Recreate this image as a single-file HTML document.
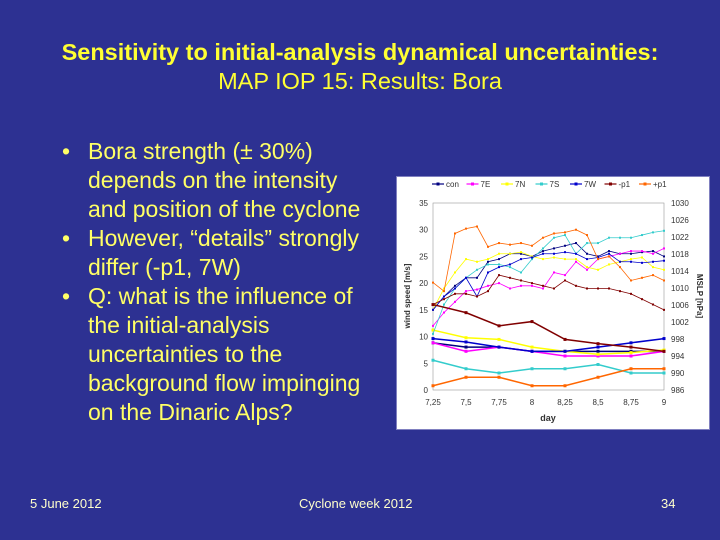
<!DOCTYPE html>
<html><head><meta charset="utf-8"><style>
body{margin:0;width:720px;height:540px;overflow:hidden;background:#2d3192;font-family:"Liberation Sans",sans-serif;position:relative}
.t{position:absolute;white-space:nowrap}
.title{left:0;width:720px;text-align:center;color:#ffff33;font-size:23.5px;line-height:29px}
.bul{color:#ffff66;font-size:23px;line-height:29px;left:62px}
.bul span.b{position:absolute;left:0}
.bul span.x{position:absolute;left:26px}
.foot{color:#ffffcc;font-size:13px;top:496px}
</style></head><body>
<div class="t title" style="top:38px;font-weight:bold">Sensitivity to initial-analysis dynamical uncertainties:</div>
<div class="t title" style="top:67px">MAP IOP 15: Results: Bora</div>
<div class="t bul" style="top:137px">
<div style="position:relative;height:29px"><span class="b">•</span><span class="x">Bora strength (± 30%)</span></div>
<div style="position:relative;height:29px"><span class="x">depends on the intensity</span></div>
<div style="position:relative;height:29px"><span class="x">and position of the cyclone</span></div>
<div style="position:relative;height:29px"><span class="b">•</span><span class="x">However, “details” strongly</span></div>
<div style="position:relative;height:29px"><span class="x">differ (-p1, 7W)</span></div>
<div style="position:relative;height:29px"><span class="b">•</span><span class="x">Q: what is the influence of</span></div>
<div style="position:relative;height:29px"><span class="x">the initial-analysis</span></div>
<div style="position:relative;height:29px"><span class="x">uncertainties to the</span></div>
<div style="position:relative;height:29px"><span class="x">background flow impinging</span></div>
<div style="position:relative;height:29px"><span class="x">on the Dinaric Alps?</span></div>
</div>
<div class="t foot" style="left:30px">5 June 2012</div>
<div class="t foot" style="left:299px">Cyclone week 2012</div>
<div class="t foot" style="left:661px">34</div>
<svg id="chart" width="720" height="540" style="position:absolute;left:0;top:0"></svg>
<script>
const hours=[0,2,4,6,8,10,12,14,16,18,20,22,24,26,28,30,32,34,36,38,40,42];
const pDays=[7.25,7.5,7.75,8,8.25,8.5,8.75,9];
const seriesNames=["con","7E","7N","7S","7W","-p1","+p1"];
const seriesColors=["#000080","#ff00ff","#ffff00","#33cccc","#0000cc","#800000","#ff6600"];
const windCon=[15,17.5,19.5,21,21,24,24.5,25.5,25.5,25,26,26.5,27,27.5,25.5,25,26,25.5,25.5,25.8,26,25];
const wind7E=[12,14.5,16.5,18.5,18.8,19.5,20,19,19.5,19.5,19,22,21.5,24,22.5,24.5,25,25.5,26,26,25.5,26.5];
const wind7N=[15,19,22,24.5,24,24.5,25.5,25.5,25.8,25,24.5,24.8,24.5,24.5,23,22.5,23.5,24,24.5,24.8,23,22.5];
const wind7S=[10.5,16,19,21,22.5,23.5,23.5,23,22,24.5,26.5,28.5,29,25.5,27.5,27.5,28.5,28.5,28.5,29,29.5,29.8];
const wind7W=[15,17.5,19,21,17.5,22,23,23.5,24.5,24.8,25.5,25.5,25.8,25.5,24.5,24.8,25.5,24,24,23.8,24,24.2];
const windM1=[16,17,18,18,17.5,18.5,21.5,21,20.5,20,19.5,19,20.5,19.5,19,19,19,18.5,18,17,16,15];
const windP1=[20.1,18.5,29.3,30.2,30.6,26.8,27.5,27.2,27.5,27,28.5,29.3,29.5,30,29,24.5,25,23,20.5,21,21.5,20.5];
const pCon=[997.1,996.1,996.1,995.1,995.1,995.1,995.1,995.1];
const p7E=[997.1,995.1,996.1,995.1,994.0,994.0,994.0,995.1];
const p7N=[1000.1,998.3,997.9,996.1,995.1,994.4,994.8,995.4];
const p7S=[993.0,991.0,990.0,991.0,991.0,992.0,990.0,990.0];
const p7W=[998.1,997.3,996.1,995.1,995.1,996.1,997.1,998.1];
const pM1=[1006.1,1004.2,1001.1,1002.1,997.9,996.9,996.1,995.1];
const pP1=[987.0,989.0,989.0,987.0,987.0,989.0,991.0,991.0];
const windTicks=[0,5,10,15,20,25,30,35];
const pTicks=[986,990,994,998,1002,1006,1010,1014,1018,1022,1026,1030];
const dayTicks=["7,25","7,5","7,75","8","8,25","8,5","8,75","9"];
const windSeries=[windCon,wind7E,wind7N,wind7S,wind7W,windM1,windP1];
const pSeries=[pCon,p7E,p7N,p7S,p7W,pM1,pP1];
const X0=433,X1=664,Y0=390,Y1=203;
const xs=d=>X0+(d-7.25)/1.75*(X1-X0);
const yw=v=>Y0-v/35*(Y0-Y1);
const yp=p=>Y0-(p-986)/44*(Y0-Y1);
const svg=document.getElementById('chart');const NS="http://www.w3.org/2000/svg";
function mk(t,a,txt){const e=document.createElementNS(NS,t);for(const k in a)e.setAttribute(k,a[k]);if(txt!=null)e.textContent=txt;svg.appendChild(e);return e;}
let e=mk('rect',{x:396.5,y:176.5,width:313,height:253,fill:"#fff",stroke:"#8080c0"});

e=mk('rect',{x:X0,y:Y1,width:X1-X0,height:Y0-Y1,fill:"none",stroke:"#999","stroke-width":0.6});

windTicks.forEach(v=>{e=mk('text',{x:X0-5,y:yw(v)+3,"font-size":8,"text-anchor":"end",fill:"#333"},v);
});
pTicks.forEach(p=>{e=mk('text',{x:X1+7,y:yp(p)+3,"font-size":8,fill:"#333"},p);
});
dayTicks.forEach((t,i)=>{e=mk('text',{x:xs(pDays[i]),y:Y0+15,"font-size":8,"text-anchor":"middle",fill:"#333"},t);
});
e=mk('text',{x:548,y:421,"font-size":9,"font-weight":"bold","text-anchor":"middle",fill:"#333"},"day");

e=mk('text',{x:410,y:296,"font-size":8,"font-weight":"bold","text-anchor":"middle",fill:"#333",transform:"rotate(-90 410 296)"},"wind speed [m/s]");

e=mk('text',{x:697,y:296,"font-size":8,"font-weight":"bold","text-anchor":"middle",fill:"#333",transform:"rotate(90 697 296)"},"MSLP [hPa]");

seriesNames.forEach((n,i)=>{
 const c=seriesColors[i];
 const wp=windSeries[i].map((v,k)=>[xs(7.25+hours[k]/24),yw(v)]);
 e=mk('polyline',{points:wp.map(p=>p.join(',')).join(' '),fill:"none",stroke:c,"stroke-width":0.8});
 
 wp.forEach(p=>mk('rect',{x:p[0]-1,y:p[1]-1,width:2,height:2,fill:c}));
 const pp=pSeries[i].map((v,k)=>[xs(pDays[k]),yp(v)]);
 e=mk('polyline',{points:pp.map(p=>p.join(',')).join(' '),fill:"none",stroke:c,"stroke-width":1.5});
 
 pp.forEach(p=>mk('rect',{x:p[0]-1.5,y:p[1]-1.5,width:3,height:3,fill:c}));
 const lx=432+i*34.5;
 e=mk('line',{x1:lx,y1:184,x2:lx+12,y2:184,stroke:c,"stroke-width":1.2});
 
 mk('rect',{x:lx+4.5,y:182.5,width:3,height:3,fill:c});
 mk('text',{x:lx+14,y:187,"font-size":8,fill:"#333"},n);
});
</script>
</body></html>
